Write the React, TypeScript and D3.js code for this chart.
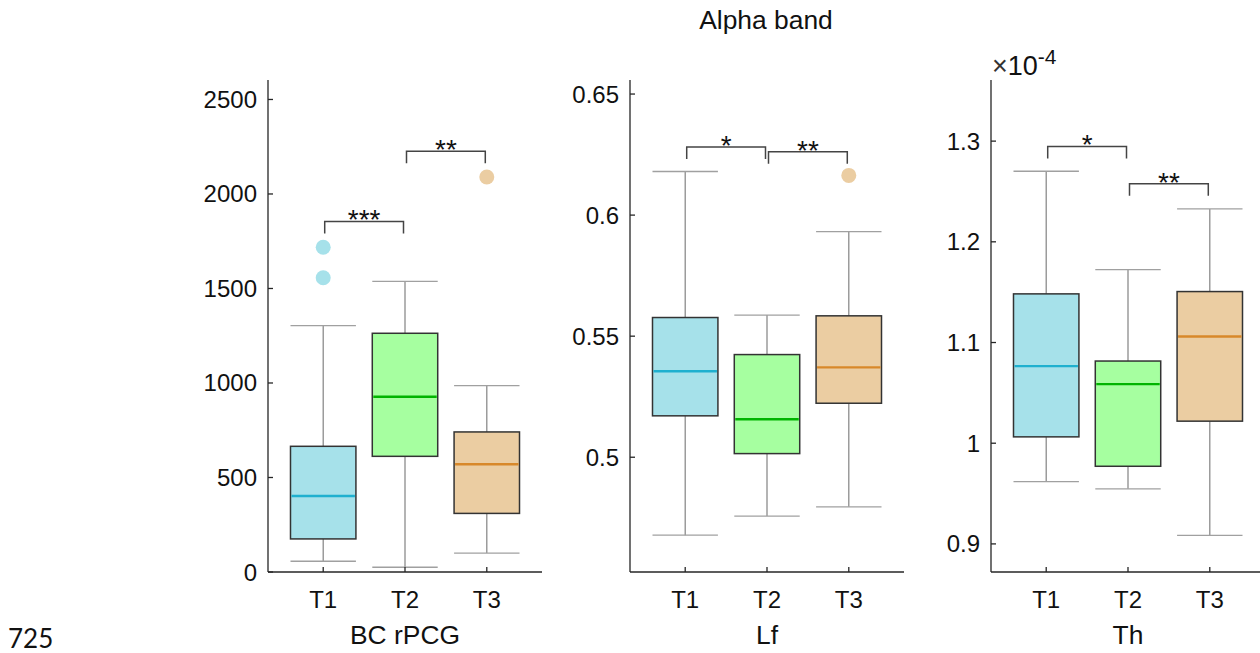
import React from 'react';
import * as d3 from 'd3';

// groups and colours
const groups = ['T1', 'T2', 'T3'];
const fills = ['#a6e1ea', '#a6ffa0', '#ebcda2'];
const medianColors = ['#1fb0cf', '#00b400', '#d8882a'];
const outlierColors = ['#a6e1ea', '#a6ffa0', '#ebcda2'];

// BC rPCG
const bcLo = [57, 25, 100];
const bcQ1 = [175, 612, 310];
const bcMed = [402, 927, 570];
const bcQ3 = [665, 1263, 741];
const bcHi = [1303, 1538, 986];
const bcOut = [[1557, 1718], [], [2090]];
const bcTicks = [0, 500, 1000, 1500, 2000, 2500];
const bcTickLabels = ['0', '500', '1000', '1500', '2000', '2500'];
const bcSig = [
  { from: 0, to: 1, y: 1855, label: '***' },
  { from: 1, to: 2, y: 2226, label: '**' },
];

// Lf
const lfLo = [0.4678, 0.4757, 0.4795];
const lfQ1 = [0.5171, 0.5015, 0.5223];
const lfMed = [0.5355, 0.5157, 0.5371];
const lfQ3 = [0.5577, 0.5424, 0.5584];
const lfHi = [0.618, 0.5587, 0.5932];
const lfOut = [[], [], [0.6164]];
const lfTicks = [0.5, 0.55, 0.6, 0.65];
const lfTickLabels = ['0.5', '0.55', '0.6', '0.65'];
const lfSig = [
  { from: 0, to: 1, y: 0.6281, label: '*' },
  { from: 1, to: 2, y: 0.6262, label: '**' },
];

// Th (x 1e-4)
const thLo = [0.9619, 0.9547, 0.9084];
const thQ1 = [1.0063, 0.9771, 1.0219];
const thMed = [1.0766, 1.0587, 1.106];
const thQ3 = [1.1483, 1.0816, 1.1506];
const thHi = [1.2701, 1.1724, 1.2327];
const thOut = [[], [], []];
const thTicks = [0.9, 1, 1.1, 1.2, 1.3];
const thTickLabels = ['0.9', '1', '1.1', '1.2', '1.3'];
const thSig = [
  { from: 0, to: 1, y: 1.2947, label: '*' },
  { from: 1, to: 2, y: 1.2577, label: '**' },
];

const panels = [
  { left: 268, label: 'BC rPCG', domain: [0, 2603], lo: bcLo, q1: bcQ1, med: bcMed, q3: bcQ3, hi: bcHi, out: bcOut, ticks: bcTicks, tickLabels: bcTickLabels, sig: bcSig },
  { left: 630, label: 'Lf', domain: [0.4526, 0.6558], lo: lfLo, q1: lfQ1, med: lfMed, q3: lfQ3, hi: lfHi, out: lfOut, ticks: lfTicks, tickLabels: lfTickLabels, sig: lfSig },
  { left: 991, label: 'Th', domain: [0.8721, 1.3607], lo: thLo, q1: thQ1, med: thMed, q3: thQ3, hi: thHi, out: thOut, ticks: thTicks, tickLabels: thTickLabels, sig: thSig, exponent: '-4' },
];

const top = 80;
const bottom = 572;
const plotW = 274;
const axisColor = '#262626';
const font = '"Liberation Sans", Arial, Helvetica, sans-serif';

function Panel({ p }: { p: any }) {
  const x = d3.scaleLinear().domain([0.325, 3.675]).range([p.left, p.left + plotW]);
  const y = d3.scaleLinear().domain(p.domain).range([bottom, top]);
  const half = (x(1.4) - x(1)) as number;

  return (
    <g>
      {groups.map((g, i) => {
        const cx = x(i + 1);
        return (
          <g key={g}>
            {/* whiskers */}
            <line x1={cx} x2={cx} y1={y(p.hi[i])} y2={y(p.q3[i])} stroke="#8c8c8c" strokeWidth={1.3} />
            <line x1={cx} x2={cx} y1={y(p.q1[i])} y2={y(p.lo[i])} stroke="#8c8c8c" strokeWidth={1.3} />
            <line x1={cx - half} x2={cx + half} y1={y(p.hi[i])} y2={y(p.hi[i])} stroke="#a0a0a0" strokeWidth={1.3} />
            <line x1={cx - half} x2={cx + half} y1={y(p.lo[i])} y2={y(p.lo[i])} stroke="#a0a0a0" strokeWidth={1.3} />
            {/* box */}
            <rect
              x={cx - half}
              y={y(p.q3[i])}
              width={half * 2}
              height={y(p.q1[i]) - y(p.q3[i])}
              fill={fills[i]}
              stroke="#333"
              strokeWidth={1.5}
            />
            <line x1={cx - half + 1} x2={cx + half - 1} y1={y(p.med[i])} y2={y(p.med[i])} stroke={medianColors[i]} strokeWidth={2.4} />
            {p.out[i].map((v: number, j: number) => (
              <circle key={j} cx={cx} cy={y(v)} r={7.5} fill={outlierColors[i]} />
            ))}
          </g>
        );
      })}

      {/* significance brackets */}
      {p.sig.map((s: any, k: number) => {
        const x1 = x(s.from + 1) + 1.5;
        const x2 = x(s.to + 1) - 1.5;
        const yy = y(s.y);
        return (
          <g key={k}>
            <path d={`M${x1},${yy + 12}V${yy}H${x2}V${yy + 12}`} fill="none" stroke="#444" strokeWidth={1.5} />
            <text x={(x1 + x2) / 2} y={yy + 8} textAnchor="middle" fontSize={28} fontFamily={font} fill="#111">
              {s.label}
            </text>
          </g>
        );
      })}

      {/* axes */}
      <line x1={p.left} x2={p.left} y1={top} y2={bottom} stroke={axisColor} strokeWidth={1.3} />
      <line x1={p.left} x2={p.left + plotW} y1={bottom} y2={bottom} stroke={axisColor} strokeWidth={1.3} />
      {p.ticks.map((t: number, k: number) => (
        <g key={k}>
          <line x1={p.left} x2={p.left + 5} y1={y(t)} y2={y(t)} stroke={axisColor} strokeWidth={1.3} />
          <text x={p.left - 11} y={y(t) + 8.5} textAnchor="end" fontSize={24} fontFamily={font} fill="#111">
            {p.tickLabels[k]}
          </text>
        </g>
      ))}
      {groups.map((g, i) => (
        <g key={g}>
          <line x1={x(i + 1)} x2={x(i + 1)} y1={bottom} y2={bottom - 5} stroke={axisColor} strokeWidth={1.3} />
          <text x={x(i + 1)} y={608} textAnchor="middle" fontSize={24} fontFamily={font} fill="#111">
            {g}
          </text>
        </g>
      ))}
      <text x={p.left + plotW / 2} y={644} textAnchor="middle" fontSize={26.4} fontFamily={font} fill="#111">
        {p.label}
      </text>
      {p.exponent && (
        <text x={p.left + 1} y={75} fontSize={27} fontFamily={font} fill="#111">
          <tspan fontWeight={300} fill="#333">×</tspan>10
          <tspan dy={-11} fontSize={21}>{p.exponent}</tspan>
        </text>
      )}
    </g>
  );
}

export default function App() {
  return (
    <svg width={1260} height={653} style={{ position: 'absolute', left: 0, top: 0, background: '#fff' }}>
      <rect width={1260} height={653} fill="#fff" />
      <text x={766} y={29} textAnchor="middle" fontSize={26.4} fontFamily={font} fill="#111">
        Alpha band
      </text>
      {panels.map((p, i) => (
        <Panel key={i} p={p} />
      ))}
      <text x={8} y={648} fontSize={26} fontFamily='Lato, "Open Sans", sans-serif' fill="#111">
        725
      </text>
    </svg>
  );
}
